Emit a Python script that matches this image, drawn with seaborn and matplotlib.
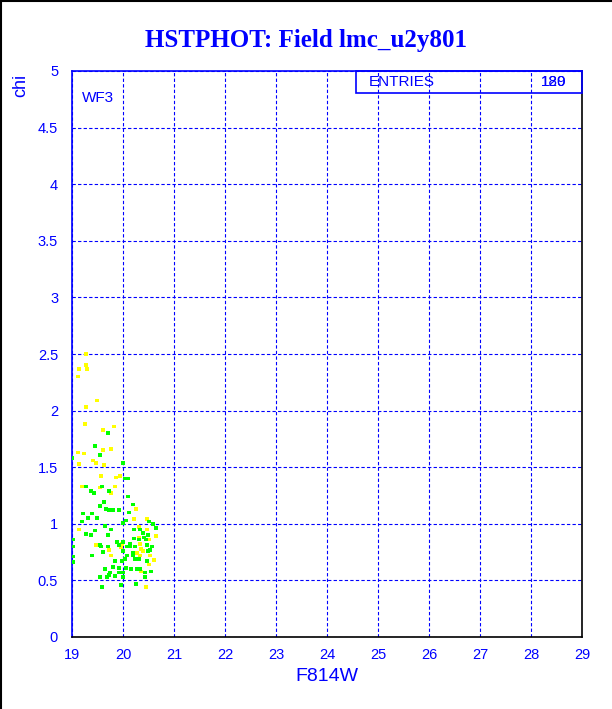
import numpy as np
import pandas as pd
import matplotlib
matplotlib.use("Agg")
import matplotlib.pyplot as plt
from matplotlib.lines import Line2D
from matplotlib.patches import Rectangle
from matplotlib.ticker import MultipleLocator
import seaborn as sns

# yellow points (F814W, chi)
yellow_x = [19.27, 19.27, 19.14, 19.29, 19.12, 19.49, 19.27, 19.25, 19.61, 19.82,
            19.76, 19.61, 19.12, 19.24, 19.41, 19.47, 19.14, 19.63, 19.57, 19.86,
            19.94, 19.20, 19.55, 19.84, 19.76, 20.25, 20.22, 20.47, 20.31, 19.14,
            20.47, 20.31, 20.65, 20.51, 19.47, 19.98, 20.33, 19.96, 20.35, 19.73,
            20.27, 20.39, 19.76, 20.33, 20.53, 20.61, 20.51, 20.35, 20.45]
yellow_y = [2.50, 2.40, 2.37, 2.37, 2.30, 2.09, 2.03, 1.88, 1.83, 1.86,
            1.66, 1.65, 1.63, 1.62, 1.56, 1.54, 1.53, 1.52, 1.42, 1.41,
            1.42, 1.33, 1.32, 1.33, 1.27, 1.13, 1.04, 1.04, 0.97, 0.95,
            0.95, 0.88, 0.89, 0.86, 0.81, 0.82, 0.82, 0.79, 0.78, 0.77,
            0.74, 0.76, 0.72, 0.72, 0.72, 0.68, 0.64, 0.58, 0.44]

# green points
green_x = [19.71, 19.45, 19.55, 19.00, 20.00, 20.04, 20.10, 19.27, 19.59, 19.37,
           19.73, 19.43, 20.10, 19.63, 20.20, 19.55, 19.67, 19.73, 19.80, 19.92,
           20.12, 19.22, 19.39, 19.31, 19.49, 20.06, 19.20, 20.51, 20.00, 20.59,
           19.65, 20.22, 19.76, 20.33, 20.39, 20.65, 19.45, 19.27, 19.37, 19.71,
           20.49, 20.41, 20.22, 19.02, 19.88, 20.00, 20.31, 20.45, 20.14, 19.55,
           19.92, 20.47, 19.71, 19.57, 20.08, 20.14, 20.24, 20.57, 20.53, 19.02,
           19.61, 20.00, 20.20, 20.49, 19.02, 19.39, 20.08, 20.20, 19.02, 19.84,
           19.98, 20.04, 20.24, 20.31, 20.47, 19.65, 19.80, 19.92, 20.16, 20.27,
           20.33, 20.06, 20.55, 19.75, 19.92, 20.00, 20.43, 19.55, 19.69, 19.73,
           19.84, 20.00, 20.43, 19.59, 19.96, 20.25]
green_y = [1.80, 1.69, 1.61, 1.58, 1.54, 1.40, 1.40, 1.33, 1.33, 1.29,
           1.29, 1.27, 1.24, 1.19, 1.17, 1.16, 1.13, 1.12, 1.12, 1.12,
           1.10, 1.09, 1.09, 1.05, 1.05, 1.03, 1.02, 1.02, 1.01, 1.00,
           0.98, 0.95, 0.95, 0.95, 0.92, 0.96, 0.94, 0.91, 0.90, 0.90,
           0.90, 0.88, 0.87, 0.86, 0.84, 0.84, 0.86, 0.86, 0.82, 0.81,
           0.81, 0.81, 0.80, 0.80, 0.80, 0.80, 0.80, 0.80, 0.77, 0.80,
           0.75, 0.76, 0.74, 0.76, 0.71, 0.72, 0.72, 0.72, 0.66, 0.67,
           0.67, 0.69, 0.69, 0.69, 0.67, 0.60, 0.62, 0.61, 0.60, 0.60,
           0.60, 0.61, 0.58, 0.57, 0.57, 0.57, 0.57, 0.53, 0.53, 0.55,
           0.54, 0.53, 0.53, 0.44, 0.46, 0.47]

entries_label = "ENTRIES"
entries_vals = ["189", "120"]
panel_label = "WF3"

df = pd.DataFrame({
    "F814W": yellow_x + green_x,
    "chi": yellow_y + green_y,
    "grp": ["y"] * len(yellow_x) + ["g"] * len(green_x),
})

sns.set_style("white")
plt.rcParams["font.family"] = ["Liberation Sans", "DejaVu Sans"]
blue = "#0000ff"

fig = plt.figure(figsize=(6.12, 7.09), dpi=100)
ax = fig.add_axes([72 / 612, 72 / 709, 510 / 612, 566 / 709])

sns.scatterplot(data=df, x="F814W", y="chi", hue="grp",
                palette={"y": "#ffff00", "g": "#00ff00"},
                marker="s", s=7, linewidth=0, legend=False, ax=ax, zorder=3)

ax.set_xlim(19, 29)
ax.set_ylim(0, 5)
ax.xaxis.set_major_locator(MultipleLocator(1))
ax.xaxis.set_minor_locator(MultipleLocator(0.2))
ax.yaxis.set_major_locator(MultipleLocator(0.5))
ax.yaxis.set_minor_locator(MultipleLocator(0.1))
ax.yaxis.set_major_formatter(plt.FuncFormatter(lambda v, p: f"{v:g}"))

ax.grid(True, which="major", color=blue, linestyle=(0, (3, 2)), linewidth=0.8)
ax.tick_params(axis="both", which="major", direction="in", length=10, width=1.2,
               color=blue, labelcolor=blue, labelsize=10.5)
ax.tick_params(axis="both", which="minor", direction="in", length=5, width=1,
               color=blue)
ax.tick_params(axis="x", which="major", pad=8)
ax.tick_params(axis="y", which="major", pad=10)

for side in ["left", "top"]:
    ax.spines[side].set_color(blue)
for side in ["bottom", "right"]:
    ax.spines[side].set_color("black")
for sp in ax.spines.values():
    sp.set_linewidth(1.2)

ax.set_xlabel("F814W", color=blue, fontsize=14, labelpad=4)
ax.set_ylabel("")
fig.text(21 / 612, 1 - 85 / 709, "chi", rotation=90, color=blue, fontsize=13,
         ha="center", va="center")

ax.text(0.02, 0.965, panel_label, transform=ax.transAxes, color=blue,
        fontsize=11, ha="left", va="top")

box_y0 = 5 - 22 / 113.2
ax.add_patch(Rectangle((24.57, box_y0), 29 - 24.57, 5 - box_y0, fill=False,
                       edgecolor=blue, linewidth=1.2, zorder=4, clip_on=False))
ax.text(24.82, (5 + box_y0) / 2, entries_label, color=blue, fontsize=11,
        ha="left", va="center")
for v in entries_vals:
    ax.text(28.45, (5 + box_y0) / 2, v, color=blue, fontsize=11,
            ha="center", va="center")

fig.suptitle("HSTPHOT: Field lmc_u2y801", y=1 - 40 / 709, color=blue,
             fontsize=18, fontweight="bold", family="Liberation Serif",
             va="center")

# black frame on left and top edge of the picture
fig.add_artist(Line2D([0.001, 0.001], [0, 1], color="black", linewidth=1.5,
                      transform=fig.transFigure))
fig.add_artist(Line2D([0, 1], [0.999, 0.999], color="black", linewidth=1.5,
                      transform=fig.transFigure))

fig.savefig("out.png", dpi=100)
